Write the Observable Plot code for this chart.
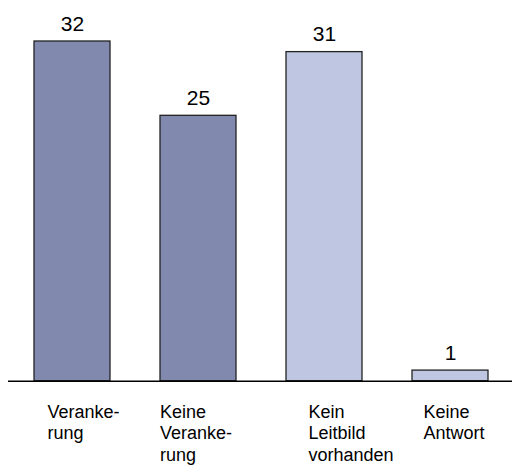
<!DOCTYPE html>
<html>
<head>
<meta charset="utf-8">
<script src="https://cdn.jsdelivr.net/npm/d3@7"></script>
<script src="https://cdn.jsdelivr.net/npm/@observablehq/plot@0.6"></script>
<style>
  html, body { margin: 0; padding: 0; background: #fff; }
  svg { display: block; }
</style>
</head>
<body>
<div id="chart"></div>
<script>
const categories = ["Verankerung", "Keine Verankerung", "Kein Leitbild vorhanden", "Keine Antwort"];
const values = [32, 25, 31, 1];
const tickLabels = ["Veranke-\nrung", "Keine\nVeranke-\nrung", "Kein\nLeitbild\nvorhanden", "Keine\nAntwort"];

const palette = ["#8289ae", "#8289ae", "#bfc6e2", "#bfc6e2"];
const labelDx = [-25, -38.5, -16, -27];

const data = categories.map((c, i) => ({category: c, value: values[i], label: tickLabels[i], i}));

const chart = Plot.plot({
  width: 512,
  height: 466,
  marginLeft: 8,
  marginRight: 0,
  marginTop: 0,
  marginBottom: 0,
  style: {fontFamily: "'Liberation Sans', Arial, Helvetica, sans-serif", background: "#fff"},
  x: {domain: categories, range: [7.7, 514.4], paddingInner: 0.4, paddingOuter: 0.2, axis: null},
  y: {domain: [0, 32], range: [380.7, 41], axis: null},
  marks: [
    Plot.barY(data, {x: "category", y: "value", fill: (d) => palette[d.i], stroke: "#222", strokeWidth: 1.3}),
    Plot.ruleY([0], {stroke: "#000", strokeWidth: 1.5}),
    Plot.text(data, {x: "category", y: "value", text: (d) => String(d.value), lineAnchor: "bottom", dy: -11, fontSize: 21, fill: "#000"}),
    ...data.map((d, i) => Plot.text([d], {x: "category", y: () => 0, text: "label", textAnchor: "start", lineAnchor: "top", dx: labelDx[i], dy: 21, fontSize: 18, lineHeight: 1.2, fill: "#000"}))
  ]
});
document.getElementById("chart").appendChild(chart);
</script>
</body>
</html>
